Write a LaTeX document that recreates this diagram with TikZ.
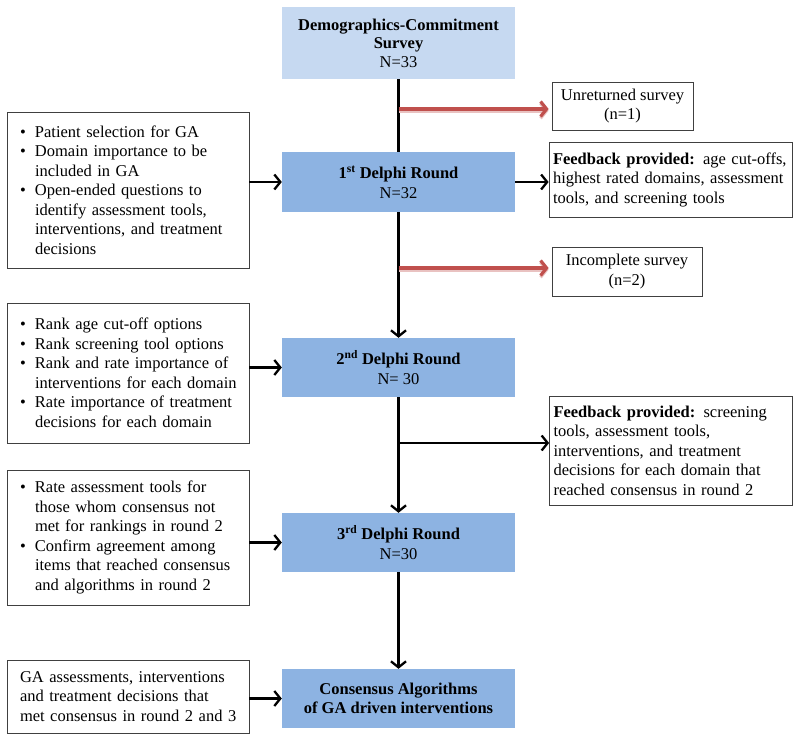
\documentclass[tikz,border=0pt]{standalone}
\usepackage{fontspec}
\setmainfont{Liberation Serif}
\usetikzlibrary{arrows.meta}
\definecolor{lightblue}{HTML}{C6D9F1}
\definecolor{midblue}{HTML}{8DB3E2}
\definecolor{arrred}{HTML}{C0504D}
\definecolor{boxgray}{HTML}{404040}
\newcommand{\bl}[1]{\mbox{\makebox[15pt][l]{\textbullet}#1}}
\newcommand{\il}[1]{\mbox{\hspace*{15pt}#1}}
\newcommand{\pl}[1]{\mbox{#1}}
\begin{document}
\begin{tikzpicture}[x=1pt,y=-1pt,
  every node/.style={font=\fontsize{16.5}{19.5}\selectfont, inner sep=0pt},
  bluebox/.style={fill=midblue, minimum width=233, minimum height=59, align=center},
  whitebox/.style={draw=boxgray, line width=0.8pt, fill=white},
  leftbox/.style={whitebox, minimum width=242, text width=216, align=left},
  fbbox/.style={whitebox, minimum width=243, text width=235, align=left},
  conn/.style={line width=2.3pt, black},
  arr/.style={conn, -{Straight Barb[length=6pt,width=15pt,line width=2.3pt]}},
  redarr/.style={line width=3.6pt, arrred, -{Straight Barb[length=6pt,width=15pt,line width=3.2pt]},
     preaction={draw=arrred!35, line width=3.6pt, transform canvas={yshift=-1.8pt}}}
]
\useasboundingbox[fill=white] (0,0) rectangle (800,741);

% main column
\node[bluebox, fill=lightblue, minimum height=72] (demo) at (398.5,43)
  {\textbf{Demographics-Commitment}\\[-1pt]\textbf{Survey}\\[-1pt]N=33};
\node[bluebox, minimum height=60] (d1) at (398.5,182)
  {\textbf{1\textsuperscript{st} Delphi Round}\\N=32};
\node[bluebox] (d2) at (398.5,367.5)
  {\textbf{2\textsuperscript{nd} Delphi Round}\\N= 30};
\node[bluebox] (d3) at (398.5,542.5)
  {\textbf{3\textsuperscript{rd} Delphi Round}\\N=30};
\node[bluebox] (cons) at (398.5,698.5)
  {\textbf{Consensus Algorithms}\\\textbf{of GA driven interventions}};

% right side boxes
\node[whitebox, minimum width=141, minimum height=48, align=center] (unret) at (622.5,106)
  {Unreturned survey\\(n=1)};
\node[whitebox, minimum width=150, minimum height=49, align=center] (inc) at (627,271.5)
  {Incomplete survey\\(n=2)};
\node[fbbox, minimum height=75] (fb1) at (670.5,179.5)
  {\pl{\textbf{Feedback provided:} age cut-offs,}\\\pl{highest rated domains, assessment}\\\pl{tools, and screening tools}};
\node[fbbox, minimum height=109] (fb2) at (671,450.5)
  {\pl{\textbf{Feedback provided:} screening}\\\pl{tools, assessment tools,}\\\pl{interventions, and treatment}\\\pl{decisions for each domain that}\\\pl{reached consensus in round 2}};

% left side boxes
\node[leftbox, minimum height=156] (L1) at (128,190)
  {\bl{Patient selection for GA}\\
   \bl{Domain importance to be}\\
   \il{included in GA}\\
   \bl{Open-ended questions to}\\
   \il{identify assessment tools,}\\
   \il{interventions, and treatment}\\
   \il{decisions}};
\node[leftbox, minimum height=140] (L2) at (128,373)
  {\bl{Rank age cut-off options}\\
   \bl{Rank screening tool options}\\
   \bl{Rank and rate importance of}\\
   \il{interventions for each domain}\\
   \bl{Rate importance of treatment}\\
   \il{decisions for each domain}};
\node[leftbox, minimum height=135] (L3) at (128,537.5)
  {\bl{Rate assessment tools for}\\
   \il{those whom consensus not}\\
   \il{met for rankings in round 2}\\
   \bl{Confirm agreement among}\\
   \il{items that reached consensus}\\
   \il{and algorithms in round 2}};
\node[leftbox, minimum height=73] (L4) at (128,696.5)
  {\pl{GA assessments, interventions}\\\pl{and treatment decisions that}\\\pl{met consensus in round 2 and 3}};

% vertical flow
\draw[conn] (demo) -- (d1);
\draw[arr] (d1) -- (d2);
\draw[arr] (d2) -- (d3);
\draw[arr] (d3) -- (cons);

% exits and feedback
\coordinate (r1) at (398.5,109);
\coordinate (r2) at (398.5,268);
\coordinate (b1) at (398.5,443);
\draw[redarr, shorten >=3pt] (r1) -- (unret.west |- r1);
\draw[redarr, shorten >=3pt] (r2) -- (inc.west |- r2);
\draw[arr] (b1) -- (fb2.west |- b1);
\draw[arr] (d1.east) -- (fb1.west |- d1.east);

% inputs from left
\draw[arr] (L1.east |- d1.west) -- (d1.west);
\draw[arr] (L2.east |- d2.west) -- (d2.west);
\draw[arr] (L3.east |- d3.west) -- (d3.west);
\draw[arr] (L4.east |- cons.west) -- (cons.west);
\end{tikzpicture}
\end{document}
